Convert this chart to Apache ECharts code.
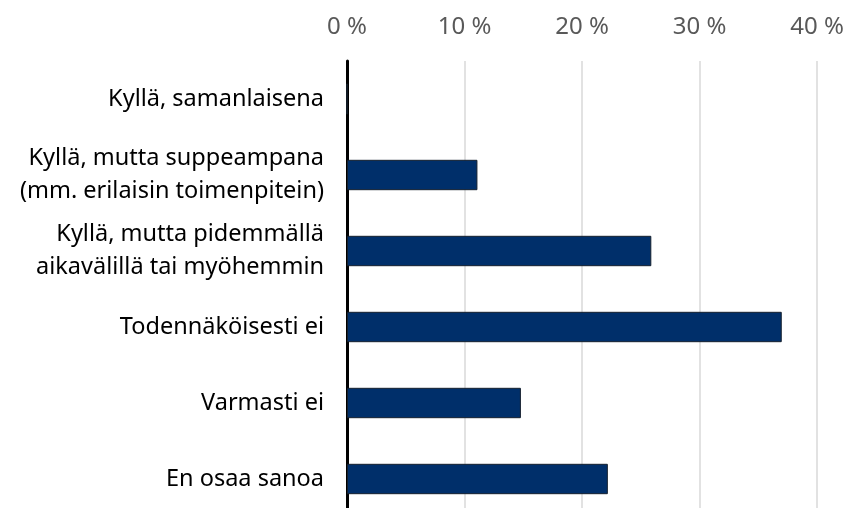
<!DOCTYPE html>
<html>
<head>
<meta charset="utf-8">
<script src="https://cdn.jsdelivr.net/npm/echarts@6/dist/echarts.min.js"></script>
<style>
  html, body { margin: 0; padding: 0; background: #fff; }
  #chart { width: 848px; height: 508px; }
</style>
</head>
<body>
<div id="chart"></div>
<script>
// vastausvaihtoehdot ylhäältä alas
const categories = [
  'Kyllä, samanlaisena',
  'Kyllä, mutta suppeampana\n(mm. erilaisin toimenpitein)',
  'Kyllä, mutta pidemmällä\naikavälillä tai myöhemmin',
  'Todennäköisesti ei',
  'Varmasti ei',
  'En osaa sanoa'
];
// osuudet prosentteina
const shares = [0, 11.1, 25.9, 37.0, 14.8, 22.2];
const xTicks = [0, 10, 20, 30, 40];

const chart = echarts.init(document.getElementById('chart'));

chart.setOption({
  animation: false,
  grid: {
    left: 347,
    right: 31,
    top: 61,
    height: 456,
    outerBoundsMode: 'none'
  },
  xAxis: {
    type: 'value',
    position: 'top',
    min: xTicks[0],
    max: xTicks[xTicks.length - 1],
    interval: 10,
    axisLine: { show: false },
    axisTick: { show: false },
    axisLabel: {
      formatter: '{value} %',
      fontFamily: 'Noto Sans',
      fontSize: 24,
      color: '#595959',
      margin: 22
    },
    splitLine: { lineStyle: { color: '#d9d9d9', width: 1.5 } }
  },
  yAxis: {
    type: 'category',
    inverse: true,
    data: categories,
    axisTick: { show: false },
    axisLine: { lineStyle: { color: '#000', width: 3 } },
    axisLabel: {
      fontFamily: 'Noto Sans',
      fontSize: 23.5,
      color: '#000',
      lineHeight: 33,
      margin: 23,
      align: 'right'
    }
  },
  series: [
    {
      type: 'bar',
      data: shares,
      barWidth: '40%',
      itemStyle: {
        color: '#002f6a',
        borderColor: '#15202e',
        borderWidth: 1
      }
    }
  ]
});
</script>
</body>
</html>
